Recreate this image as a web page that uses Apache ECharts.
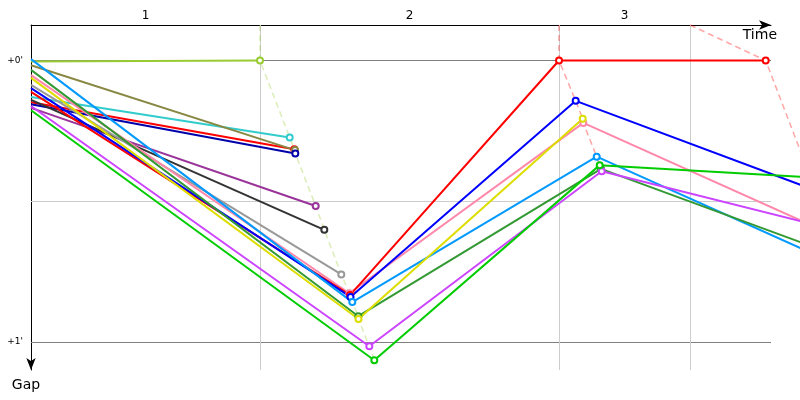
<!DOCTYPE html>
<html><head><meta charset="utf-8">
<script src="https://cdn.jsdelivr.net/npm/echarts@6/dist/echarts.min.js"></script>
<style>html,body{margin:0;padding:0;background:#fff}#c{width:800px;height:400px}</style>
</head><body><div id="c"></div>
<script>
// ---- data (time units along the race, gap in seconds behind the leader) ----
const lapNames = ['1', '2', '3'];
const lapStarts = [0, 229, 528, 659];   // lap boundary times (vertical guides)
const gapTicks = [0, 60];               // labelled gaps (seconds)
const gapGuides = [0, 30, 60];          // horizontal guides (seconds)

// each driver: [time, gap] at start, lap 1, lap 2, lap 3
const drvYellowGreen = [[0, 0.2], [229, 0]];
const drvCyan        = [[0, 7.8], [258.7, 16.4]];
const drvRedA        = [[0, 8.9], [263.3, 18.9]];
const drvOlive       = [[0, 1.0], [264, 19.1]];
const drvNavy        = [[0, 9.3], [264.3, 19.8]];
const drvPurple      = [[0, 10.1], [284.7, 31.0]];
const drvBlack       = [[0, 8.4], [293.3, 36.1]];
const drvGray        = [[0, 5.2], [310.3, 45.6]];
const drvPink        = [[0, 3.1], [318.3, 49.6], [552.3, 13.3], [799, 36.9]];
const drvRedB        = [[0, 6.7], [319, 50.0], [528, 0], [734.7, 0]];
const drvBlue        = [[0, 5.9], [319.5, 50.4], [544.7, 8.6], [784.6, 27.7]];
const drvDodger      = [[0, -0.3], [321.3, 51.5], [565.7, 20.5], [824, 45.2]];
const drvDarkGreen   = [[0, 2.0], [327.3, 54.5], [570, 23.1], [819, 42.6]];
const drvYellow      = [[0, 3.7], [327.5, 55.1], [551.7, 12.4]];
const drvMagenta     = [[0, 9.7], [338.3, 60.9], [570.7, 23.6], [814, 36.6]];
const drvGreen       = [[0, 10.6], [343.3, 63.9], [568.7, 22.3], [809, 25.3]];

const driverColors = ['#99cc33', '#33cccc', '#ff0000', '#888844', '#0000aa', '#993399',
  '#333333', '#999999', '#ff88aa', '#ff0000', '#0000ff', '#0099ff', '#339933', '#dddd00',
  '#cc44ff', '#00cc00'];
const drivers = [drvYellowGreen, drvCyan, drvRedA, drvOlive, drvNavy, drvPurple, drvBlack,
  drvGray, drvPink, drvRedB, drvBlue, drvDodger, drvDarkGreen, drvYellow, drvMagenta, drvGreen];

// ---- chart ----
const yMin = -7.57, yMax = 65.97;
const gridLeft = 31, gridRight = 29, plotW = 800 - gridLeft - gridRight; // 1 time unit = 1px
const extra = 200; // data layer extends past the visible axis end

function lapLine(k) {
  const pts = drivers.map(d => d[k]).filter(p => p).sort((a, b) => a[0] - b[0]);
  return [[lapStarts[k], yMin]].concat(pts);
}
function lapLeaderColor(k) {
  let best = null, col = '#000';
  drivers.forEach((d, i) => { if (d[k] && (best === null || d[k][0] < best)) { best = d[k][0]; col = driverColors[i]; } });
  return col;
}
const lapMids = lapNames.map((n, i) => (lapStarts[i] + lapStarts[i + 1]) / 2);

const series = [];
series.push({
  type: 'line', data: [], silent: true, z: 1, xAxisIndex: 0, yAxisIndex: 0,
  markLine: {
    z: 1, silent: true, symbol: ['none', 'none'], label: { show: false }, animation: false,
    data: gapGuides.map(g => ({ yAxis: g, lineStyle: { color: (g === 30 ? '#cccccc' : '#808080'), width: 1, type: 'solid' } }))
      .concat(lapStarts.slice(1).map(t => ({ xAxis: t, lineStyle: { color: '#cccccc', width: 1, type: 'solid' } })))
  }
});
for (let k = 1; k <= lapNames.length; k++) {
  series.push({
    type: 'line', data: lapLine(k), showSymbol: false, symbol: 'none', clip: false, silent: true, z: 2,
    xAxisIndex: 1, yAxisIndex: 1,
    lineStyle: { color: lapLeaderColor(k), opacity: 0.35, width: 1.5, type: [6, 4] }
  });
}
drivers.forEach((d, i) => {
  series.push({
    type: 'line', clip: false, z: 3, xAxisIndex: 1, yAxisIndex: 1,
    data: d.map((p, j) => j === 0 ? { value: p, symbol: 'none' } : { value: p }),
    symbol: 'emptyCircle', symbolSize: 6, showAllSymbol: true,
    lineStyle: { color: driverColors[i], width: 2 },
    itemStyle: { color: driverColors[i], borderWidth: 1.5 }
  });
});

const font = 'DejaVu Sans';
const chart = echarts.init(document.getElementById('c'));
chart.setOption({
  animation: false,
  backgroundColor: '#fff',
  grid: [
    { left: gridLeft, right: gridRight, top: 25, bottom: 30, outerBoundsMode: 'none', containLabel: false },
    { left: gridLeft, right: gridRight - extra, top: 25, bottom: 30, outerBoundsMode: 'none', containLabel: false }
  ],
  xAxis: [{
    gridIndex: 0, type: 'value', position: 'top', min: 0, max: plotW,
    name: 'Time', nameLocation: 'end', nameGap: 6,
    nameTextStyle: { align: 'right', verticalAlign: 'top', fontSize: 14, fontFamily: font, color: '#000', padding: [3, 0, 0, 0] },
    axisLine: { onZero: false, symbol: ['none', 'arrow'], symbolSize: [7, 12], lineStyle: { color: '#000', width: 1 } },
    axisTick: { show: false },
    splitLine: { show: false },
    axisLabel: {
      customValues: lapMids, margin: 3, fontSize: 12, fontFamily: font, color: '#000',
      formatter: v => { const i = lapMids.findIndex(m => Math.abs(m - v) < 0.01); return i >= 0 ? lapNames[i] : ''; }
    }
  }, {
    gridIndex: 1, type: 'value', position: 'top', min: 0, max: plotW + extra, show: false
  }],
  yAxis: [{
    gridIndex: 0, type: 'value', inverse: true, min: yMin, max: yMax,
    name: 'Gap', nameLocation: 'end', nameGap: 8,
    nameTextStyle: { align: 'center', verticalAlign: 'top', fontSize: 14, fontFamily: font, color: '#000', padding: [0, 10, 0, 0] },
    axisLine: { onZero: false, symbol: ['arrow', 'none'], symbolSize: [7, 12], lineStyle: { color: '#000', width: 1 } },
    axisTick: { show: false },
    splitLine: { show: false },
    axisLabel: {
      customValues: gapTicks, margin: 8, fontSize: 9, fontFamily: font, color: '#000',
      formatter: v => '+' + Math.round(v / 60) + "'"
    }
  }, {
    gridIndex: 1, type: 'value', inverse: true, min: yMin, max: yMax, show: false
  }],
  series: series
});
</script>
</body></html>
